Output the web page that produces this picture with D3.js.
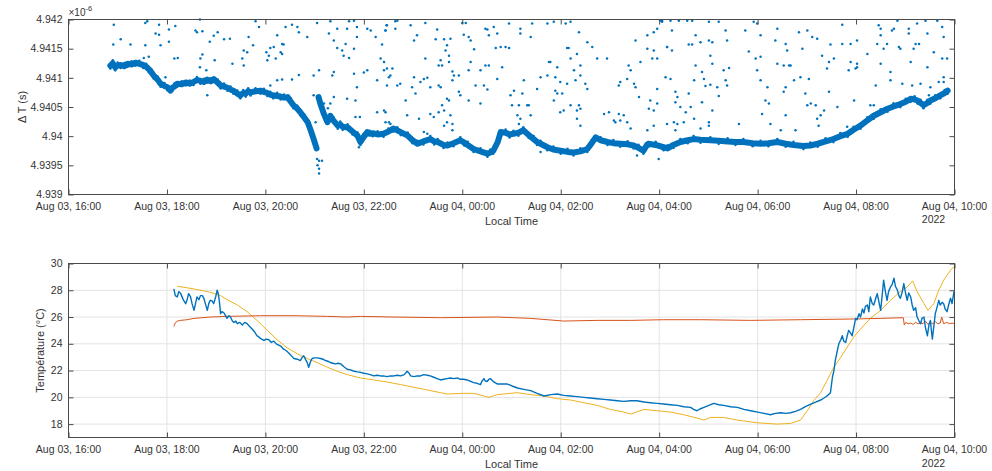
<!DOCTYPE html>
<html><head><meta charset="utf-8">
<script src="https://cdn.jsdelivr.net/npm/d3@7"></script>
<style>
body{margin:0;background:#fff;}
svg text{font-family:"Liberation Sans",Arial,Helvetica,sans-serif;fill:#333;}
</style></head><body>
<svg id="chart" width="992" height="471"></svg>
<script>
// Hours since Aug 03 16:00, ΔT in units of 1e-6 s
const deltaBand = [
[0.85,4.94121],[0.90,4.94125],[0.95,4.94118],[1.00,4.94121],[1.06,4.94122],[1.13,4.94120],[1.20,4.94124],[1.28,4.94123],[1.36,4.94126],[1.44,4.94124],[1.52,4.94122],[1.58,4.94119],[1.63,4.94115],[1.68,4.94110],[1.73,4.94104],[1.81,4.94097],[1.87,4.94090],[1.95,4.94086],[2.01,4.94084],[2.07,4.94078],[2.11,4.94083],[2.15,4.94085],[2.21,4.94090],[2.30,4.94089],[2.38,4.94092],[2.46,4.94090],[2.54,4.94093],[2.61,4.94096],[2.68,4.94095],[2.75,4.94093],[2.82,4.94097],[2.89,4.94094],[2.95,4.94098],[3.03,4.94092],[3.09,4.94087],[3.16,4.94085],[3.23,4.94083],[3.29,4.94080],[3.35,4.94078],[3.43,4.94073],[3.49,4.94070],[3.55,4.94074],[3.60,4.94073],[3.65,4.94077],[3.70,4.94075],[3.80,4.94077],[3.90,4.94078],[3.97,4.94076],[4.04,4.94074],[4.10,4.94071],[4.16,4.94070],[4.24,4.94069],[4.31,4.94068],[4.38,4.94066],[4.45,4.94067],[4.51,4.94060],[4.57,4.94053],[4.65,4.94047],[4.71,4.94041],[4.79,4.94032],[4.86,4.94024],[4.92,4.94010],[4.98,4.93995],[5.04,4.93979],[5.06,null],
[5.08,4.94067],[5.12,4.94055],[5.18,4.94040],[5.26,4.94024],[5.32,4.94035],[5.38,4.94027],[5.47,4.94018],[5.52,4.94020],[5.57,4.94016],[5.67,4.94015],[5.77,4.94008],[5.87,4.94001],[5.93,4.93990],[5.99,4.93998],[6.07,4.94007],[6.12,4.94004],[6.18,4.94005],[6.28,4.94003],[6.40,4.94004],[6.50,4.94008],[6.60,4.94013],[6.68,4.94010],[6.75,4.94007],[6.89,4.94001],[6.99,4.93993],[7.09,4.93987],[7.21,4.93991],[7.35,4.93995],[7.43,4.93991],[7.50,4.93990],[7.62,4.93985],[7.70,4.93984],[7.82,4.93988],[7.96,4.93993],[8.04,4.93989],[8.11,4.93985],[8.23,4.93978],[8.37,4.93974],[8.51,4.93970],[8.57,4.93972],[8.63,4.93975],[8.72,4.93990],[8.78,4.94007],[8.88,4.94006],[8.96,4.94003],[9.04,4.94004],[9.14,4.94006],[9.24,4.94010],[9.35,4.94002],[9.45,4.93995],[9.52,4.93990],[9.59,4.93987],[9.73,4.93981],[9.85,4.93977],[10.00,4.93975],[10.14,4.93973],[10.26,4.93972],[10.40,4.93974],[10.54,4.93978],[10.63,4.93988],[10.71,4.93998],[10.81,4.93993],[10.95,4.93990],[11.07,4.93988],[11.21,4.93987],[11.36,4.93986],[11.48,4.93984],[11.58,4.93980],[11.68,4.93975],[11.73,4.93982],[11.78,4.93987],[11.93,4.93985],[12.09,4.93981],[12.17,4.93979],[12.29,4.93985],[12.43,4.93990],[12.58,4.93993],[12.70,4.93995],[12.84,4.93994],[13.04,4.93993],[13.21,4.93992],[13.39,4.93991],[13.55,4.93990],[13.71,4.93990],[13.90,4.93988],[14.06,4.93987],[14.22,4.93988],[14.40,4.93990],[14.57,4.93987],[14.73,4.93985],[14.93,4.93983],[15.07,4.93984],[15.22,4.93987],[15.38,4.93991],[15.54,4.93995],[15.68,4.94000],[15.83,4.94004],[15.95,4.94011],[16.09,4.94018],[16.23,4.94027],[16.36,4.94035],[16.50,4.94041],[16.64,4.94047],[16.76,4.94051],[16.90,4.94055],[17.01,4.94059],[17.11,4.94064],[17.19,4.94063],[17.25,4.94061],[17.31,4.94057],[17.37,4.94053],[17.45,4.94057],[17.51,4.94061],[17.61,4.94065],[17.71,4.94070],[17.80,4.94074],[17.86,4.94078]
];

const deltaOutliers = [
[0.92,4.94191],[1.56,4.94194],[1.60,4.94197],[1.84,4.94191],[1.06,4.94166],[0.91,4.94157],[1.26,4.94157],[1.56,4.94156],[2.04,4.94183],[2.17,4.94189],[2.04,4.94162],[1.87,4.94156],[1.77,4.94176],[1.84,4.94174],[1.63,4.94136],[1.53,4.94134],[2.15,4.94133],[2.22,4.94134],[2.67,4.94200],[2.58,4.94181],[2.61,4.94178],[2.72,4.94180],[3.03,4.94178],[2.95,4.94172],[2.87,4.94162],[3.16,4.94166],[3.28,4.94167],[3.66,4.94170],[3.75,4.94156],[3.56,4.94147],[3.63,4.94144],[3.53,4.94133],[3.56,4.94121],[3.33,4.94124],[2.68,4.94133],[2.72,4.94140],[2.67,4.94118],[2.80,4.94113],[2.97,4.94130],[3.80,4.94197],[3.87,4.94187],[4.02,4.94144],[4.10,4.94151],[4.17,4.94153],[4.07,4.94138],[4.04,4.94130],[4.21,4.94133],[4.24,4.94173],[4.41,4.94187],[4.54,4.94191],[4.68,4.94178],[4.65,4.94187],[4.34,4.94158],[4.37,4.94157],[4.31,4.94144],[4.34,4.94141],[4.85,4.94170],[5.05,4.94194],[5.32,4.94197],[5.46,4.94184],[5.29,4.94176],[5.39,4.94164],[5.46,4.94151],[5.63,4.94158],[5.56,4.94147],[5.70,4.94197],[5.80,4.94198],[5.86,4.94187],[5.66,4.94184],[5.86,4.94170],[5.70,4.94134],[5.59,4.94138],[5.80,4.94150],[6.07,4.94184],[6.24,4.94170],[6.14,4.94181],[6.37,4.94157],[6.47,4.94190],[6.44,4.94181],[6.41,4.94127],[6.47,4.94116],[6.54,4.94104],[6.27,4.94096],[6.07,4.94113],[6.00,4.94109],[5.80,4.94107],[5.39,4.94110],[5.36,4.94104],[5.09,4.94113],[4.98,4.94104],[4.68,4.94105],[4.54,4.94097],[4.34,4.94097],[4.24,4.94096],[4.10,4.94087],[1.97,4.94101],[2.82,4.94070],[5.39,4.94067],[5.19,4.94056],[5.66,4.94064],[5.83,4.94061],[5.86,4.94084],[6.27,4.94041],[6.41,4.94044],[6.44,4.94024],[5.83,4.94033],[4.98,4.94070],[5.02,4.94024],[5.09,4.93958],[5.15,4.93958],[5.05,4.93961],[5.09,4.93944],[5.09,4.93936],[5.06,4.93950],[5.90,4.93981],[5.92,4.94033],[5.32,4.94056],[5.27,4.94048],
[6.44,4.94181],[6.46,4.94190],[6.64,4.94197],[6.68,4.94198],[6.64,4.94184],[6.95,4.94190],[7.02,4.94164],[7.08,4.94173],[7.25,4.94194],[7.46,4.94166],[7.49,4.94183],[7.63,4.94166],[7.76,4.94167],[7.69,4.94156],[7.66,4.94147],[7.73,4.94138],[7.56,4.94130],[7.52,4.94121],[8.00,4.94194],[8.07,4.94194],[8.03,4.94174],[8.13,4.94170],[8.17,4.94164],[8.24,4.94149],[8.47,4.94184],[8.51,4.94183],[8.54,4.94173],[8.64,4.94187],[8.71,4.94176],[8.68,4.94151],[8.78,4.94153],[8.95,4.94151],[8.95,4.94193],[9.18,4.94176],[9.18,4.94184],[9.39,4.94170],[9.42,4.94193],[9.73,4.94193],[9.86,4.94196],[10.10,4.94193],[10.20,4.94196],[10.37,4.94178],[10.13,4.94151],[10.16,4.94151],[10.33,4.94141],[10.40,4.94121],[10.27,4.94113],[10.20,4.94133],[9.93,4.94118],[9.89,4.94101],[9.76,4.94127],[6.41,4.94113],[6.58,4.94116],[6.51,4.94101],[6.47,4.94087],[6.68,4.94087],[6.74,4.94090],[7.02,4.94101],[6.98,4.94084],[7.05,4.94073],[7.22,4.94098],[7.29,4.94100],[7.15,4.94093],[7.35,4.94084],[7.25,4.94133],[7.59,4.94121],[7.73,4.94127],[7.80,4.94111],[7.83,4.94104],[7.93,4.94104],[7.80,4.94096],[7.52,4.94087],[7.56,4.94084],[8.13,4.94113],[8.17,4.94127],[8.37,4.94113],[8.47,4.94121],[8.44,4.94087],[8.54,4.94121],[8.71,4.94098],[8.27,4.94087],[7.93,4.94076],[7.96,4.94070],[7.73,4.94061],[7.69,4.94064],[7.59,4.94053],[7.63,4.94044],[7.52,4.94041],[7.35,4.94038],[7.42,4.94033],[7.76,4.94036],[7.80,4.94021],[7.80,4.94010],[7.63,4.94018],[7.69,4.94024],[6.88,4.94036],[7.12,4.94030],[7.22,4.94007],[7.29,4.94004],[6.44,4.94041],[6.51,4.94024],[6.54,4.94021],[6.34,4.94133],[6.85,4.94061],[8.13,4.94061],[8.37,4.94056],[8.51,4.94080],[8.81,4.94118],[8.88,4.94153],[8.98,4.94070],[9.01,4.94053],[9.05,4.94078],[9.15,4.94053],[9.12,4.94036],[9.18,4.94030],[9.15,4.94021],[9.22,4.94073],[9.32,4.94053],[9.35,4.94053],[9.25,4.94096],[9.39,4.94036],[9.52,4.94081],[9.59,4.94101],[9.73,4.94104],[9.79,4.94127],[9.89,4.94078],[9.93,4.94073],[9.86,4.94061],[9.99,4.94093],[10.03,4.94073],[10.13,4.94090],[10.06,4.94044],[9.99,4.94041],[10.20,4.94053],[10.37,4.94053],[10.40,4.94047],[10.33,4.94044],[10.33,4.94030],[10.40,4.94018],[10.30,4.94096],[10.40,4.94104],[10.50,4.94090],[10.54,4.94081],[10.54,4.94161],[10.64,4.94153],[10.74,4.94133],[10.94,4.94133],[10.88,4.94038],[10.98,4.94041],[11.11,4.94024],[11.18,4.94038],[11.08,4.94027],[11.18,4.94087],[11.21,4.94093],[11.35,4.94098],[11.38,4.94121],[11.42,4.94113],[11.49,4.94090],[11.52,4.94084],[11.28,4.94036],[11.21,4.94027],[11.42,4.94013],[11.35,4.94024],[11.59,4.94067],[11.62,4.94127],[11.52,4.94164],[11.76,4.94150],[11.76,4.94173],[11.89,4.94178],[11.96,4.94184],[11.89,4.94147],[11.86,4.94133],[11.96,4.94133],[11.96,4.94081],[11.82,4.94061],[11.79,4.94047],[11.89,4.94044],[11.96,4.94056],[11.76,4.94010],[11.89,4.94018],[12.06,4.94196],[12.03,4.94198],[12.16,4.94153],[12.13,4.94101],[12.16,4.94021],[11.99,4.93961],[11.55,4.93967],[9.59,4.93973],
[12.06,4.94198],[12.23,4.94198],[12.40,4.94198],[12.57,4.94198],[12.26,4.94181],[12.16,4.94153],[12.26,4.94147],[12.23,4.94098],[12.33,4.94076],[12.37,4.94067],[12.33,4.94058],[12.43,4.94050],[12.30,4.94024],[12.37,4.94021],[12.33,4.94010],[12.54,4.94041],[12.64,4.94050],[12.60,4.94073],[12.50,4.94024],[12.71,4.94030],[12.67,4.94198],[12.74,4.94173],[12.60,4.94157],[12.67,4.94157],[12.84,4.94161],[12.74,4.94121],[12.71,4.94096],[12.87,4.94110],[12.91,4.94098],[12.94,4.94086],[13.04,4.94088],[13.01,4.94164],[13.08,4.94161],[13.04,4.94138],[13.08,4.94124],[13.08,4.94044],[13.01,4.94024],[13.01,4.94018],[12.87,4.94058],[12.84,4.94013],[13.21,4.94196],[13.01,4.94196],[13.18,4.94084],[13.21,4.94069],[13.35,4.94181],[13.38,4.94164],[13.31,4.94113],[13.42,4.94117],[13.35,4.94096],[13.38,4.94087],[13.62,4.94021],[13.75,4.94181],[13.82,4.94145],[13.92,4.94196],[13.99,4.94193],[14.06,4.94173],[14.06,4.94136],[13.96,4.94133],[13.99,4.94113],[14.06,4.94096],[14.20,4.94084],[14.16,4.94061],[14.23,4.94056],[14.09,4.94038],[14.26,4.94021],[14.40,4.94184],[14.36,4.94164],[14.40,4.94124],[14.53,4.94121],[14.64,4.94121],[14.67,4.94121],[14.57,4.94158],[14.60,4.94147],[14.57,4.94084],[14.53,4.94076],[14.57,4.94036],[14.47,4.94010],[14.74,4.94096],[14.77,4.94010],[14.84,4.94178],[14.87,4.94101],[14.91,4.94150],[15.01,4.94181],[15.04,4.94098],[14.97,4.94073],[15.08,4.94056],[15.01,4.94053],[15.11,4.94170],[15.21,4.94167],[15.18,4.94053],[15.21,4.94030],[15.28,4.94036],[15.24,4.94018],[15.35,4.94044],[15.31,4.94138],[15.41,4.94116],[15.45,4.94127],[15.48,4.94157],[15.45,4.94076],[15.55,4.94133],[15.62,4.94050],[15.72,4.94191],[15.72,4.94158],[15.82,4.94016],[15.85,4.94113],[15.89,4.94158],[15.89,4.94127],[15.96,4.94061],[16.02,4.94164],[16.02,4.94124],[16.02,4.94118],[15.99,4.94116],[16.23,4.94141],[16.29,4.94053],[16.36,4.94053],[16.40,4.94087],[16.43,4.94158],[16.46,4.94190],[16.50,4.94184],[16.50,4.94173],[16.50,4.94124],[16.56,4.94150],[16.63,4.94158],[16.70,4.94110],[16.70,4.94096],[16.73,4.94181],[16.77,4.94184],[16.84,4.94198],[16.87,4.94153],[16.90,4.94150],[16.94,4.94090],[17.07,4.94184],[17.07,4.94176],[17.11,4.94127],[17.14,4.94087],[17.17,4.94150],[17.24,4.94193],[17.21,4.94158],[17.28,4.94158],[17.31,4.94090],[17.41,4.94198],[17.45,4.94176],[17.45,4.94118],[17.48,4.94070],[17.51,4.94084],[17.58,4.94144],[17.65,4.94198],[17.68,4.94093],[17.75,4.94187],[17.78,4.94170],[17.75,4.94133],[17.78,4.94101],[17.78,4.94093],[17.85,4.94133]
];

// Temperatures (°C), hours since Aug 03 16:00
const tempBlue = [
[2.14,28.1],[2.17,27.6],[2.21,27.5],[2.24,27.9],[2.28,27.75],[2.33,27.3],[2.38,27.0],[2.41,27.3],[2.44,27.75],[2.48,27.5],[2.51,27.0],[2.55,26.5],[2.58,27.0],[2.61,27.5],[2.65,27.3],[2.68,27.6],[2.72,27.6],[2.75,27.4],[2.78,27.0],[2.82,26.5],[2.85,27.0],[2.88,27.25],[2.92,27.2],[2.95,27.0],[2.99,27.5],[3.02,28.0],[3.04,27.8],[3.06,27.3],[3.07,27.0],[3.09,26.25],[3.12,26.4],[3.16,26.3],[3.19,26.1],[3.22,25.9],[3.26,26.1],[3.29,26.0],[3.33,25.7],[3.36,25.6],[3.40,25.7],[3.43,25.5],[3.48,25.6],[3.53,25.4],[3.58,25.6],[3.63,25.5],[3.68,25.3],[3.73,25.1],[3.78,24.9],[3.83,24.6],[3.87,24.5],[3.90,24.4],[3.97,24.25],[4.02,24.35],[4.07,24.3],[4.12,24.1],[4.17,24.2],[4.22,24.0],[4.27,23.9],[4.32,23.8],[4.37,23.6],[4.42,23.5],[4.48,23.3],[4.53,23.1],[4.58,22.9],[4.65,22.85],[4.71,22.75],[4.75,23.0],[4.78,23.1],[4.82,22.8],[4.85,22.6],[4.88,22.25],[4.92,22.7],[4.95,22.9],[5.00,22.95],[5.05,22.95],[5.12,22.9],[5.17,22.85],[5.22,22.75],[5.27,22.7],[5.32,22.6],[5.37,22.55],[5.42,22.5],[5.48,22.55],[5.53,22.5],[5.59,22.3],[5.66,22.1],[5.73,22.05],[5.80,21.95],[5.87,21.9],[5.93,21.87],[6.00,21.8],[6.07,21.75],[6.13,21.7],[6.20,21.6],[6.27,21.65],[6.34,21.6],[6.40,21.6],[6.47,21.55],[6.54,21.6],[6.61,21.6],[6.68,21.65],[6.75,21.6],[6.82,21.7],[6.88,21.95],[6.92,21.8],[6.95,21.6],[7.02,21.55],[7.08,21.6],[7.15,21.6],[7.22,21.7],[7.29,21.65],[7.35,21.6],[7.42,21.5],[7.49,21.4],[7.56,21.3],[7.62,21.35],[7.69,21.4],[7.76,21.45],[7.83,21.4],[7.90,21.45],[7.96,21.35],[8.03,21.35],[8.10,21.3],[8.17,21.2],[8.23,21.1],[8.30,21.05],[8.37,20.95],[8.40,21.2],[8.44,21.4],[8.47,21.2],[8.51,21.2],[8.54,21.35],[8.57,21.4],[8.64,21.15],[8.71,21.0],[8.81,21.0],[8.91,21.0],[9.01,20.85],[9.12,20.7],[9.25,20.6],[9.39,20.5],[9.52,20.3],[9.66,20.1],[9.80,20.2],[9.93,20.25],[10.06,20.15],[10.20,20.1],[10.33,20.05],[10.47,20.0],[10.60,19.95],[10.74,19.9],[10.88,19.85],[11.01,19.8],[11.15,19.75],[11.28,19.7],[11.42,19.75],[11.55,19.75],[11.69,19.65],[11.82,19.6],[11.96,19.55],[12.09,19.5],[12.23,19.45],[12.37,19.4],[12.50,19.3],[12.64,19.25],[12.70,19.1],[12.77,19.0],[12.84,19.15],[12.91,19.25],[13.01,19.4],[13.11,19.55],[13.21,19.45],[13.31,19.4],[13.45,19.3],[13.59,19.25],[13.72,19.1],[13.86,19.0],[14.00,18.9],[14.13,18.8],[14.26,18.7],[14.36,18.8],[14.47,18.85],[14.57,18.8],[14.67,18.85],[14.77,18.95],[14.87,19.1],[14.97,19.3],[15.08,19.5],[15.18,19.65],[15.28,19.8],[15.35,19.95],[15.41,20.1],[15.48,20.35],[15.52,21.5],[15.55,22.0],[15.58,22.8],[15.62,23.5],[15.65,24.0],[15.69,24.3],[15.72,24.6],[15.75,24.2],[15.79,24.1],[15.82,24.6],[15.85,25.0],[15.89,24.8],[15.92,24.6],[15.96,25.3],[15.99,25.9],[16.02,25.8],[16.06,26.25],[16.09,26.0],[16.13,26.6],[16.16,26.3],[16.19,26.8],[16.23,26.9],[16.26,26.4],[16.29,27.5],[16.33,27.0],[16.36,26.9],[16.40,27.4],[16.43,27.75],[16.46,27.2],[16.50,26.5],[16.53,27.6],[16.56,28.75],[16.60,27.8],[16.63,27.25],[16.66,27.9],[16.70,28.25],[16.73,28.4],[16.77,28.9],[16.80,28.3],[16.84,28.0],[16.87,27.6],[16.90,27.4],[16.94,27.9],[16.97,28.5],[17.01,27.7],[17.04,27.25],[17.07,27.8],[17.11,27.5],[17.14,26.9],[17.17,26.5],[17.21,26.7],[17.24,26.0],[17.28,25.7],[17.31,25.5],[17.34,25.9],[17.38,26.0],[17.41,25.2],[17.45,24.6],[17.48,25.4],[17.51,25.75],[17.53,25.0],[17.55,24.35],[17.58,25.3],[17.61,26.25],[17.65,26.8],[17.68,27.25],[17.71,26.9],[17.75,27.1],[17.78,27.0],[17.81,26.6],[17.85,26.4],[17.88,26.9],[17.92,27.4],[17.95,27.0],[17.99,27.9],[18.0,27.6]
];
const tempRed = [
[2.14,25.3],[2.17,25.55],[2.21,25.7],[2.28,25.75],[2.41,25.8],[2.55,25.9],[2.88,26.0],[3.22,26.05],[3.90,26.1],[4.58,26.1],[5.26,26.05],[5.66,26.0],[5.93,26.05],[6.61,26.0],[7.56,25.95],[8.71,26.0],[9.39,25.9],[10.06,25.7],[10.74,25.75],[11.42,25.75],[12.09,25.8],[12.84,25.8],[13.86,25.75],[14.87,25.8],[15.89,25.85],[16.50,25.9],[16.96,25.95],[16.98,25.4],[17.01,25.6],[17.06,25.5],[17.11,25.55],[17.16,25.45],[17.21,25.6],[17.26,25.5],[17.31,25.55],[17.36,25.5],[17.41,25.7],[17.46,25.45],[17.51,25.6],[17.56,25.5],[17.61,25.65],[17.66,25.5],[17.71,25.55],[17.74,26.0],[17.78,25.5],[17.84,25.6],[17.90,25.5],[17.95,25.55],[18.0,25.5]
];
const tempYellow = [
[2.21,28.3],[2.55,28.1],[2.88,27.85],[3.09,27.6],[3.22,27.3],[3.43,26.9],[3.63,26.4],[3.83,25.75],[4.04,25.0],[4.24,24.3],[4.44,23.7],[4.65,23.25],[4.85,22.9],[5.05,22.6],[5.26,22.25],[5.46,21.95],[5.66,21.7],[5.93,21.45],[6.20,21.3],[6.47,21.15],[6.75,20.95],[7.02,20.75],[7.29,20.55],[7.56,20.35],[7.69,20.25],[8.03,20.3],[8.23,20.3],[8.54,20.0],[8.71,20.2],[9.12,20.35],[9.39,20.2],[9.66,20.1],[9.93,19.9],[10.20,19.8],[10.47,19.6],[10.74,19.4],[11.01,19.1],[11.28,18.9],[11.42,18.75],[11.69,19.1],[11.96,19.0],[12.23,18.9],[12.50,18.7],[12.77,18.45],[12.91,18.3],[13.04,18.5],[13.31,18.5],[13.59,18.3],[13.99,18.1],[14.40,18.0],[14.67,18.05],[14.87,18.3],[15.01,19.0],[15.14,19.75],[15.28,20.35],[15.41,21.25],[15.55,22.25],[15.69,23.0],[15.82,23.75],[15.95,24.5],[16.09,25.1],[16.29,25.9],[16.50,26.5],[16.70,27.25],[16.90,27.9],[17.04,28.25],[17.15,28.7],[17.24,27.9],[17.38,27.0],[17.46,26.5],[17.58,27.0],[17.68,28.0],[17.78,28.75],[17.92,29.5],[18.0,29.8]
];

const tickHours = [0,2,4,6,8,10,12,14,16,18];
const tickLabels = ["Aug 03, 16:00","Aug 03, 18:00","Aug 03, 20:00","Aug 03, 22:00","Aug 04, 00:00","Aug 04, 02:00","Aug 04, 04:00","Aug 04, 06:00","Aug 04, 08:00","Aug 04, 10:00"];
const yearLabel = "2022";
const deltaTicks = [4.939,4.9395,4.94,4.9405,4.941,4.9415,4.942];
const deltaTickLabels = ["4.939","4.9395","4.94","4.9405","4.941","4.9415","4.942"];
const tempTicks = [18,20,22,24,26,28,30];

const COLORS = {blue:"#0072BD", red:"#D95319", yellow:"#EDB120", axis:"#4a4a4a", grid:"#e3e3e3"};

const t0 = new Date(2022,7,3,16,0,0);
const toDate = h => new Date(t0.getTime() + h*3600000);

const svg = d3.select("#chart");
const L = 68.5, R = 954.5;
const x = d3.scaleTime().domain([toDate(0), toDate(18)]).range([L, R]);

function drawGrid(g, y, top, bottom, yTicks) {
  g.append("g").selectAll("line").data(yTicks).join("line")
    .attr("x1", L).attr("x2", R).attr("y1", d => y(d)).attr("y2", d => y(d))
    .attr("stroke", COLORS.grid).attr("stroke-width", 1);
  g.append("g").selectAll("line").data(tickHours).join("line")
    .attr("x1", d => x(toDate(d))).attr("x2", d => x(toDate(d)))
    .attr("y1", top).attr("y2", bottom)
    .attr("stroke", COLORS.grid).attr("stroke-width", 1);
}

function drawAxes(g, y, top, bottom, yTicks, yLabels, labelBase, yearBase, axisTitleBase) {
  const tv = tickHours.map(toDate);
  const style = sel => {
    sel.select(".domain").remove();
    sel.selectAll(".tick line").attr("stroke", COLORS.axis).attr("stroke-width", 1);
    sel.selectAll(".tick text").remove();
  };
  g.append("g").attr("transform", `translate(0,${bottom})`)
    .call(d3.axisBottom(x).tickValues(tv).tickSize(-5)).call(style);
  g.append("g").attr("transform", `translate(0,${top})`)
    .call(d3.axisTop(x).tickValues(tv).tickSize(-5)).call(style);
  g.append("g").attr("transform", `translate(${L},0)`)
    .call(d3.axisLeft(y).tickValues(yTicks).tickSize(-5)).call(style);
  g.append("g").attr("transform", `translate(${R},0)`)
    .call(d3.axisRight(y).tickValues(yTicks).tickSize(-5)).call(style);
  g.append("rect").attr("x", L).attr("y", top).attr("width", R - L).attr("height", bottom - top)
    .attr("fill", "none").attr("stroke", COLORS.axis).attr("stroke-width", 1);

  // tick labels
  g.append("g").selectAll("text").data(tickHours).join("text")
    .attr("x", d => x(toDate(d))).attr("y", labelBase)
    .attr("text-anchor", "middle").attr("font-size", "10.5px")
    .text((d, i) => tickLabels[i]);
  const last = g.append("text").attr("x", x(toDate(18))).attr("y", labelBase)
    .attr("font-size", "10.5px").attr("text-anchor", "middle").attr("opacity", 0)
    .text(tickLabels[tickLabels.length - 1]);
  const w = last.node().getComputedTextLength();
  last.remove();
  g.append("text").attr("x", x(toDate(18)) - w / 2).attr("y", yearBase)
    .attr("font-size", "10.5px").text(yearLabel);

  g.append("g").selectAll("text").data(yTicks).join("text")
    .attr("x", L - 6).attr("y", d => y(d)).attr("dy", "0.35em")
    .attr("text-anchor", "end").attr("font-size", "10.5px")
    .text((d, i) => yLabels[i]);

  g.append("text").attr("x", (L + R) / 2).attr("y", axisTitleBase)
    .attr("text-anchor", "middle").attr("font-size", "11px").text("Local Time");
}

// ---------- ΔT panel ----------
const topT = 19.5, topB = 194.5;
const yD = d3.scaleLinear().domain([4.939, 4.942]).range([topB, topT]);
const gTop = svg.append("g");
svg.append("clipPath").attr("id", "clipTop").append("rect")
  .attr("x", L).attr("y", topT - 2).attr("width", R - L).attr("height", topB - topT + 2);

const bandLine = d3.line().defined(d => d[1] !== null)
  .x(d => x(toDate(d[0]))).y(d => yD(d[1]));
gTop.append("path").datum(deltaBand).attr("d", bandLine)
  .attr("fill", "none").attr("stroke", COLORS.blue).attr("stroke-width", 6)
  .attr("stroke-linejoin", "round").attr("stroke-linecap", "round")
  .attr("clip-path", "url(#clipTop)");
// scattered samples along the edges of the dense band
gTop.append("g").attr("clip-path", "url(#clipTop)")
  .selectAll("circle").data(deltaBand.filter(d => d[1] !== null)).join("circle")
  .attr("cx", d => x(toDate(d[0]))).attr("cy", (d, i) => yD(d[1]) + (i % 2 ? -3 : 3))
  .attr("r", 1.3).attr("fill", COLORS.blue);
gTop.append("g").attr("clip-path", "url(#clipTop)")
  .selectAll("circle").data(deltaOutliers).join("circle")
  .attr("cx", d => x(toDate(d[0]))).attr("cy", d => yD(d[1]))
  .attr("r", 1.25).attr("fill", COLORS.blue);

drawAxes(gTop, yD, topT, topB, deltaTicks, deltaTickLabels, 209.5, 223, 224.5);

// exponent label
const ex = gTop.append("text").attr("x", L).attr("y", 16).attr("font-size", "10px");
ex.append("tspan").text("×10");
ex.append("tspan").attr("dy", "-5").attr("font-size", "7.5px").text("-6");

gTop.append("text").attr("transform", `translate(26,${(topT + topB) / 2}) rotate(-90)`)
  .attr("text-anchor", "middle").attr("font-size", "11px").text("Δ T (s)");

// ---------- Temperature panel ----------
const botT = 263.5, botB = 437.5;
const yT = d3.scaleLinear().domain([17, 30]).range([botB, botT]);
const gBot = svg.append("g");
drawGrid(gBot, yT, botT, botB, tempTicks);
svg.append("clipPath").attr("id", "clipBot").append("rect")
  .attr("x", L).attr("y", botT).attr("width", R - L).attr("height", botB - botT);

const tLine = d3.line().x(d => x(toDate(d[0]))).y(d => yT(d[1]));
const gData = gBot.append("g").attr("clip-path", "url(#clipBot)");
gData.append("path").datum(tempYellow).attr("d", tLine)
  .attr("fill", "none").attr("stroke", COLORS.yellow).attr("stroke-width", 1);
gData.append("path").datum(tempRed).attr("d", tLine)
  .attr("fill", "none").attr("stroke", COLORS.red).attr("stroke-width", 1);
gData.append("path").datum(tempBlue).attr("d", tLine)
  .attr("fill", "none").attr("stroke", COLORS.blue).attr("stroke-width", 1.4)
  .attr("stroke-linejoin", "round");

drawAxes(gBot, yT, botT, botB, tempTicks, tempTicks.map(String), 452.5, 466.5, 468);

gBot.append("text").attr("transform", `translate(44,${(botT + botB) / 2}) rotate(-90)`)
  .attr("text-anchor", "middle").attr("font-size", "11px").text("Température (°C)");
</script></body></html>
